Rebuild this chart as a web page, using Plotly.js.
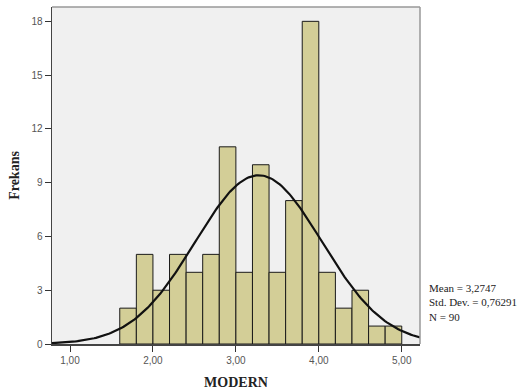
<!DOCTYPE html>
<html>
<head>
<meta charset="utf-8">
<script src="https://cdn.plot.ly/plotly-3.0.1.min.js"></script>
<style>html,body{margin:0;padding:0;background:#fff;}#chart{width:528px;height:392px;}</style>
</head>
<body>
<div id="chart"></div>
<script>
// Histogram bins (centers) and frequencies
var binCenters = [1.7, 1.9, 2.1, 2.3, 2.5, 2.7, 2.9, 3.1, 3.3, 3.5, 3.7, 3.9, 4.1, 4.3, 4.5, 4.7, 4.9];
var counts     = [2,   5,   3,   5,   4,   5,   11,  4,   10,  4,   8,   18,  4,   2,   3,   1,   1];
var binWidth = 0.2;
var meanVal = 3.2747, sdVal = 0.76291, nVal = 90;
var xTickVals = [1, 2, 3, 4, 5];
var xTickText = ["1,00", "2,00", "3,00", "4,00", "5,00"];
var yTickVals = [0, 3, 6, 9, 12, 15, 18];

// fitted normal curve from reported statistics
var cx = [], cy = [];
for (var i = 0; i <= 200; i++) {
  var x = 0.78 + (5.22 - 0.78) * i / 200;
  cx.push(x);
  cy.push(nVal * binWidth * Math.exp(-0.5 * Math.pow((x - meanVal) / sdVal, 2)) / (sdVal * Math.sqrt(2 * Math.PI)));
}

var traces = [
  {type: 'bar', x: binCenters, y: counts, width: binWidth,
   marker: {color: '#D3CE97', line: {color: '#1a1a1a', width: 1}}, hoverinfo: 'none'},
  {type: 'scatter', mode: 'lines', x: cx, y: cy, line: {color: '#111', width: 2.2}, hoverinfo: 'none'}
];

var tickFont = {family: 'Liberation Sans, Arial, sans-serif', size: 10, color: '#555'};
var titleFont = {family: 'Liberation Serif, Times New Roman, serif', size: 14, color: '#222'};
var layout = {
  width: 528, height: 392,
  margin: {l: 52, r: 108, t: 7, b: 48},
  paper_bgcolor: '#ffffff', plot_bgcolor: '#F0F0F0',
  showlegend: false, bargap: 0,
  xaxis: {range: [0.783, 5.22], tickvals: xTickVals, ticktext: xTickText, ticks: 'outside', ticklen: 6,
          tickcolor: '#333', showgrid: false, zeroline: false, showline: true, linecolor: '#444', linewidth: 1.5,
          tickfont: tickFont,
          title: {text: '<b>MODERN</b>', font: titleFont, standoff: 12}},
  yaxis: {range: [0, 18.8], tickvals: yTickVals, ticks: 'outside', ticklen: 6, tickcolor: '#333',
          showgrid: false, zeroline: false, showline: true, linecolor: '#444', linewidth: 1.5,
          tickfont: tickFont,
          title: {text: '<b>Frekans</b>', font: titleFont, standoff: 8}},
  shapes: [
    {type: 'line', xref: 'paper', yref: 'paper', x0: 0, x1: 1, y0: 1, y1: 1, line: {color: '#999', width: 1.5}},
    {type: 'line', xref: 'paper', yref: 'paper', x0: 1, x1: 1, y0: 0, y1: 1, line: {color: '#999', width: 1.5}}
  ],
  annotations: [
    {xref: 'paper', yref: 'paper', x: 1.02, y: 0.19, xanchor: 'left', yanchor: 'top', align: 'left', showarrow: false,
     text: 'Mean = 3,2747<br>Std. Dev. = 0,76291<br>N = 90',
     font: {family: 'Liberation Serif, Times New Roman, serif', size: 11, color: '#222'}}
  ]
};
Plotly.newPlot('chart', traces, layout, {staticPlot: true, displayModeBar: false});
</script>
</body>
</html>
